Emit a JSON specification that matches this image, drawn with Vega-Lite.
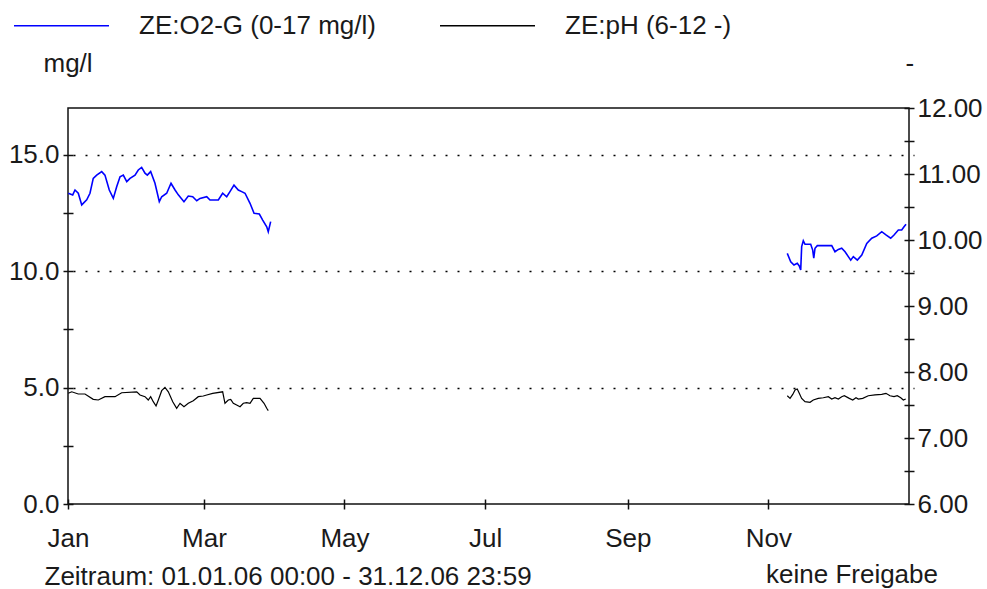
{
  "$schema": "https://vega.github.io/schema/vega-lite/v6.json",
  "width": 841,
  "height": 396,
  "autosize": "none",
  "padding": {"left": 68, "top": 108, "right": 78, "bottom": 85},
  "background": "white",
  "config": {
    "font": "Liberation Sans",
    "view": {"stroke": "#111111", "strokeWidth": 1.5},
    "axis": {
      "labelFont": "Liberation Sans", "labelFontSize": 26, "labelColor": "#1a1a1a",
      "titleFont": "Liberation Sans", "titleFontSize": 26, "titleFontWeight": "normal", "titleColor": "#1a1a1a",
      "domain": false, "tickColor": "#111111", "tickWidth": 1.5, "tickSize": 10, "offset": -5, "grid": false,
      "labelOverlap": false, "labelFlush": false
    },
    "legend": {
      "labelFont": "Liberation Sans", "labelFontSize": 26, "labelColor": "#1a1a1a"
    }
  },
  "title": {
    "text": "keine Freigabe", "orient": "bottom", "anchor": "end", "frame": "group",
    "font": "Liberation Sans", "fontSize": 26, "fontWeight": "normal", "color": "#1a1a1a",
    "dx": 29, "dy": -37, "offset": 10
  },
  "datasets": {
    "o2": [
      {"t":"2006-01-01T03:00","v":13.34,"seg":1},{"t":"2006-01-03T01:00","v":13.27,"seg":1},{"t":"2006-01-04T01:00","v":13.48,"seg":1},{"t":"2006-01-05T11:00","v":13.34,"seg":1},{"t":"2006-01-06T23:00","v":12.84,"seg":1},{"t":"2006-01-09T03:00","v":13.06,"seg":1},{"t":"2006-01-10T13:00","v":13.34,"seg":1},{"t":"2006-01-11T23:00","v":13.98,"seg":1},{"t":"2006-01-13T11:00","v":14.12,"seg":1},{"t":"2006-01-15T15:00","v":14.27,"seg":1},{"t":"2006-01-17T01:00","v":14.12,"seg":1},{"t":"2006-01-18T22:00","v":13.48,"seg":1},{"t":"2006-01-20T16:00","v":13.12,"seg":1},{"t":"2006-01-22T03:00","v":13.62,"seg":1},{"t":"2006-01-23T14:00","v":14.05,"seg":1},{"t":"2006-01-25T00:00","v":14.12,"seg":1},{"t":"2006-01-26T12:00","v":13.84,"seg":1},{"t":"2006-01-27T22:00","v":13.98,"seg":1},{"t":"2006-01-30T02:00","v":14.12,"seg":1},{"t":"2006-01-31T12:00","v":14.34,"seg":1},{"t":"2006-02-01T23:00","v":14.45,"seg":1},{"t":"2006-02-03T10:00","v":14.2,"seg":1},{"t":"2006-02-04T10:00","v":14.12,"seg":1},{"t":"2006-02-05T21:00","v":14.27,"seg":1},{"t":"2006-02-07T18:00","v":13.77,"seg":1},{"t":"2006-02-09T15:00","v":12.98,"seg":1},{"t":"2006-02-10T16:00","v":13.19,"seg":1},{"t":"2006-02-12T20:00","v":13.34,"seg":1},{"t":"2006-02-14T17:00","v":13.77,"seg":1},{"t":"2006-02-16T11:00","v":13.48,"seg":1},{"t":"2006-02-17T21:00","v":13.27,"seg":1},{"t":"2006-02-20T08:00","v":12.98,"seg":1},{"t":"2006-02-22T05:00","v":13.22,"seg":1},{"t":"2006-02-24T03:00","v":13.19,"seg":1},{"t":"2006-02-25T21:00","v":13.02,"seg":1},{"t":"2006-02-27T07:00","v":13.12,"seg":1},{"t":"2006-03-02T05:00","v":13.19,"seg":1},{"t":"2006-03-03T15:00","v":13.05,"seg":1},{"t":"2006-03-07T06:00","v":13.05,"seg":1},{"t":"2006-03-09T03:00","v":13.34,"seg":1},{"t":"2006-03-10T21:00","v":13.19,"seg":1},{"t":"2006-03-12T07:00","v":13.41,"seg":1},{"t":"2006-03-14T01:00","v":13.69,"seg":1},{"t":"2006-03-15T22:00","v":13.48,"seg":1},{"t":"2006-03-17T09:00","v":13.41,"seg":1},{"t":"2006-03-18T20:00","v":13.34,"seg":1},{"t":"2006-03-21T00:00","v":12.91,"seg":1},{"t":"2006-03-22T18:00","v":12.48,"seg":1},{"t":"2006-03-25T01:00","v":12.45,"seg":1},{"t":"2006-03-26T12:00","v":12.19,"seg":1},{"t":"2006-03-28T06:00","v":11.9,"seg":1},{"t":"2006-03-28T22:00","v":11.69,"seg":1},{"t":"2006-03-29T23:00","v":12.12,"seg":1},
      {"t":"2006-11-09T04:00","v":10.76,"seg":2},{"t":"2006-11-10T16:00","v":10.4,"seg":2},{"t":"2006-11-12T02:00","v":10.26,"seg":2},{"t":"2006-11-13T12:00","v":10.33,"seg":2},{"t":"2006-11-14T09:00","v":10.22,"seg":2},{"t":"2006-11-15T00:00","v":10.05,"seg":2},{"t":"2006-11-15T10:00","v":11.05,"seg":2},{"t":"2006-11-16T03:00","v":11.3,"seg":2},{"t":"2006-11-16T21:00","v":11.15,"seg":2},{"t":"2006-11-19T08:00","v":11.15,"seg":2},{"t":"2006-11-20T05:00","v":10.9,"seg":2},{"t":"2006-11-20T16:00","v":10.55,"seg":2},{"t":"2006-11-21T05:00","v":10.98,"seg":2},{"t":"2006-11-22T05:00","v":11.09,"seg":2},{"t":"2006-11-25T13:00","v":11.09,"seg":2},{"t":"2006-11-28T11:00","v":11.09,"seg":2},{"t":"2006-11-29T21:00","v":10.83,"seg":2},{"t":"2006-12-01T08:00","v":10.93,"seg":2},{"t":"2006-12-02T19:00","v":10.98,"seg":2},{"t":"2006-12-04T06:00","v":10.83,"seg":2},{"t":"2006-12-05T16:00","v":10.62,"seg":2},{"t":"2006-12-06T17:00","v":10.47,"seg":2},{"t":"2006-12-07T20:00","v":10.62,"seg":2},{"t":"2006-12-09T14:00","v":10.47,"seg":2},{"t":"2006-12-11T12:00","v":10.69,"seg":2},{"t":"2006-12-13T16:00","v":11.19,"seg":2},{"t":"2006-12-15T20:00","v":11.41,"seg":2},{"t":"2006-12-18T00:00","v":11.51,"seg":2},{"t":"2006-12-20T04:00","v":11.69,"seg":2},{"t":"2006-12-22T00:00","v":11.55,"seg":2},{"t":"2006-12-24T01:00","v":11.41,"seg":2},{"t":"2006-12-25T12:00","v":11.55,"seg":2},{"t":"2006-12-27T09:00","v":11.76,"seg":2},{"t":"2006-12-28T20:00","v":11.76,"seg":2},{"t":"2006-12-29T20:00","v":11.9,"seg":2},{"t":"2006-12-30T17:00","v":12.01,"seg":2}
    ],
    "ph": [
      {"t":"2006-01-01T03:00","v":7.677,"seg":1},{"t":"2006-01-02T15:00","v":7.70,"seg":1},{"t":"2006-01-05T11:00","v":7.667,"seg":1},{"t":"2006-01-08T09:00","v":7.667,"seg":1},{"t":"2006-01-11T23:00","v":7.586,"seg":1},{"t":"2006-01-14T04:00","v":7.576,"seg":1},{"t":"2006-01-17T01:00","v":7.626,"seg":1},{"t":"2006-01-21T10:00","v":7.626,"seg":1},{"t":"2006-01-24T07:00","v":7.686,"seg":1},{"t":"2006-01-30T20:00","v":7.70,"seg":1},{"t":"2006-02-01T06:00","v":7.652,"seg":1},{"t":"2006-02-03T10:00","v":7.626,"seg":1},{"t":"2006-02-04T20:00","v":7.576,"seg":1},{"t":"2006-02-05T21:00","v":7.626,"seg":1},{"t":"2006-02-07T00:00","v":7.55,"seg":1},{"t":"2006-02-08T05:00","v":7.485,"seg":1},{"t":"2006-02-09T05:00","v":7.576,"seg":1},{"t":"2006-02-10T16:00","v":7.717,"seg":1},{"t":"2006-02-12T02:00","v":7.768,"seg":1},{"t":"2006-02-13T13:00","v":7.70,"seg":1},{"t":"2006-02-15T11:00","v":7.55,"seg":1},{"t":"2006-02-17T04:00","v":7.45,"seg":1},{"t":"2006-02-18T15:00","v":7.526,"seg":1},{"t":"2006-02-20T08:00","v":7.474,"seg":1},{"t":"2006-02-22T05:00","v":7.526,"seg":1},{"t":"2006-02-24T09:00","v":7.565,"seg":1},{"t":"2006-02-26T13:00","v":7.626,"seg":1},{"t":"2006-02-28T17:00","v":7.636,"seg":1},{"t":"2006-03-02T05:00","v":7.652,"seg":1},{"t":"2006-03-04T19:00","v":7.677,"seg":1},{"t":"2006-03-09T03:00","v":7.70,"seg":1},{"t":"2006-03-10T03:00","v":7.526,"seg":1},{"t":"2006-03-11T14:00","v":7.576,"seg":1},{"t":"2006-03-12T15:00","v":7.586,"seg":1},{"t":"2006-03-13T18:00","v":7.526,"seg":1},{"t":"2006-03-15T05:00","v":7.50,"seg":1},{"t":"2006-03-16T16:00","v":7.474,"seg":1},{"t":"2006-03-18T02:00","v":7.526,"seg":1},{"t":"2006-03-19T13:00","v":7.535,"seg":1},{"t":"2006-03-21T00:00","v":7.526,"seg":1},{"t":"2006-03-22T10:00","v":7.60,"seg":1},{"t":"2006-03-25T08:00","v":7.60,"seg":1},{"t":"2006-03-27T02:00","v":7.526,"seg":1},{"t":"2006-03-28T06:00","v":7.45,"seg":1},{"t":"2006-03-28T22:00","v":7.414,"seg":1},
      {"t":"2006-11-09T04:00","v":7.64,"seg":2},{"t":"2006-11-10T09:00","v":7.60,"seg":2},{"t":"2006-11-11T13:00","v":7.66,"seg":2},{"t":"2006-11-12T13:00","v":7.727,"seg":2},{"t":"2006-11-13T12:00","v":7.742,"seg":2},{"t":"2006-11-14T09:00","v":7.677,"seg":2},{"t":"2006-11-15T10:00","v":7.60,"seg":2},{"t":"2006-11-16T21:00","v":7.55,"seg":2},{"t":"2006-11-19T01:00","v":7.54,"seg":2},{"t":"2006-11-20T11:00","v":7.576,"seg":2},{"t":"2006-11-22T15:00","v":7.60,"seg":2},{"t":"2006-11-24T19:00","v":7.61,"seg":2},{"t":"2006-11-27T00:00","v":7.626,"seg":2},{"t":"2006-11-28T11:00","v":7.59,"seg":2},{"t":"2006-11-29T21:00","v":7.61,"seg":2},{"t":"2006-12-01T08:00","v":7.59,"seg":2},{"t":"2006-12-02T19:00","v":7.626,"seg":2},{"t":"2006-12-03T22:00","v":7.64,"seg":2},{"t":"2006-12-06T02:00","v":7.60,"seg":2},{"t":"2006-12-07T14:00","v":7.576,"seg":2},{"t":"2006-12-09T00:00","v":7.61,"seg":2},{"t":"2006-12-10T00:00","v":7.59,"seg":2},{"t":"2006-12-11T22:00","v":7.60,"seg":2},{"t":"2006-12-14T08:00","v":7.64,"seg":2},{"t":"2006-12-17T06:00","v":7.652,"seg":2},{"t":"2006-12-20T04:00","v":7.66,"seg":2},{"t":"2006-12-22T00:00","v":7.677,"seg":2},{"t":"2006-12-23T18:00","v":7.64,"seg":2},{"t":"2006-12-25T12:00","v":7.626,"seg":2},{"t":"2006-12-26T22:00","v":7.64,"seg":2},{"t":"2006-12-28T10:00","v":7.61,"seg":2},{"t":"2006-12-29T13:00","v":7.576,"seg":2},{"t":"2006-12-30T14:00","v":7.59,"seg":2}
    ]
  },
  "layer": [
    {
      "data": {"name": "o2"},
      "mark": {"type": "line", "strokeWidth": 1.6},
      "encoding": {
        "x": {
          "field": "t", "type": "temporal",
          "scale": {"domain": [{"year": 2006, "month": 1, "date": 1}, {"year": 2007, "month": 1, "date": 1}]},
          "axis": {
            "values": [{"year": 2006, "month": 1, "date": 1}, {"year": 2006, "month": 3, "date": 1}, {"year": 2006, "month": 5, "date": 1}, {"year": 2006, "month": 7, "date": 1}, {"year": 2006, "month": 9, "date": 1}, {"year": 2006, "month": 11, "date": 1}],
            "format": "%b", "labelPadding": 16,
            "title": "Zeitraum: 01.01.06 00:00 - 31.12.06 23:59",
            "titleAlign": "left", "titleBaseline": "alphabetic", "titleAnchor": "start",
            "titleX": -24, "titleY": 85
          }
        },
        "y": {
          "field": "v", "type": "quantitative",
          "scale": {"domain": [0, 17], "nice": false, "zero": false},
          "axis": {
            "orient": "left",
            "values": [0, 2.5, 5, 7.5, 10, 12.5, 15],
            "labelExpr": "datum.value % 5 === 0 ? format(datum.value, '.1f') : ''",
            "labelPadding": 4,
            "grid": true, "gridDash": [2, 10], "gridColor": "#000000", "gridWidth": 1.5,
            "gridOpacity": {"condition": {"test": "datum.value % 5 !== 0 || datum.value === 0", "value": 0}, "value": 1},
            "title": "mg/l", "titleAngle": 0, "titleAlign": "left", "titleBaseline": "alphabetic",
            "titleX": -30, "titleY": -37
          }
        },
        "color": {
          "datum": "ZE:O2-G (0-17 mg/l)",
          "scale": {"domain": ["ZE:O2-G (0-17 mg/l)", "ZE:pH (6-12 -)"], "range": ["#0000ff", "#000000"]},
          "legend": {
            "title": null, "orient": "none", "direction": "horizontal",
            "legendX": -55, "legendY": -131, "symbolType": "stroke", "symbolSize": 9025,
            "symbolStrokeWidth": 1.6, "labelOffset": 29, "columnPadding": 60, "labelLimit": 500
          }
        },
        "detail": {"field": "seg", "type": "nominal"}
      }
    },
    {
      "data": {"name": "ph"},
      "mark": {"type": "line", "strokeWidth": 1.2},
      "encoding": {
        "x": {"field": "t", "type": "temporal"},
        "y": {
          "field": "v", "type": "quantitative",
          "scale": {"domain": [6, 12], "nice": false, "zero": false},
          "axis": {
            "orient": "right",
            "values": [6, 6.5, 7, 7.5, 8, 8.5, 9, 9.5, 10, 10.5, 11, 11.5, 12],
            "labelExpr": "datum.value % 1 === 0 ? format(datum.value, '.2f') : ''",
            "labelPadding": 3,
            "title": "-", "titleAngle": 0, "titleAlign": "left", "titleBaseline": "alphabetic",
            "titleX": 1, "titleY": -37
          }
        },
        "color": {"datum": "ZE:pH (6-12 -)"},
        "detail": {"field": "seg", "type": "nominal"}
      }
    }
  ],
  "resolve": {"scale": {"y": "independent"}}
}
